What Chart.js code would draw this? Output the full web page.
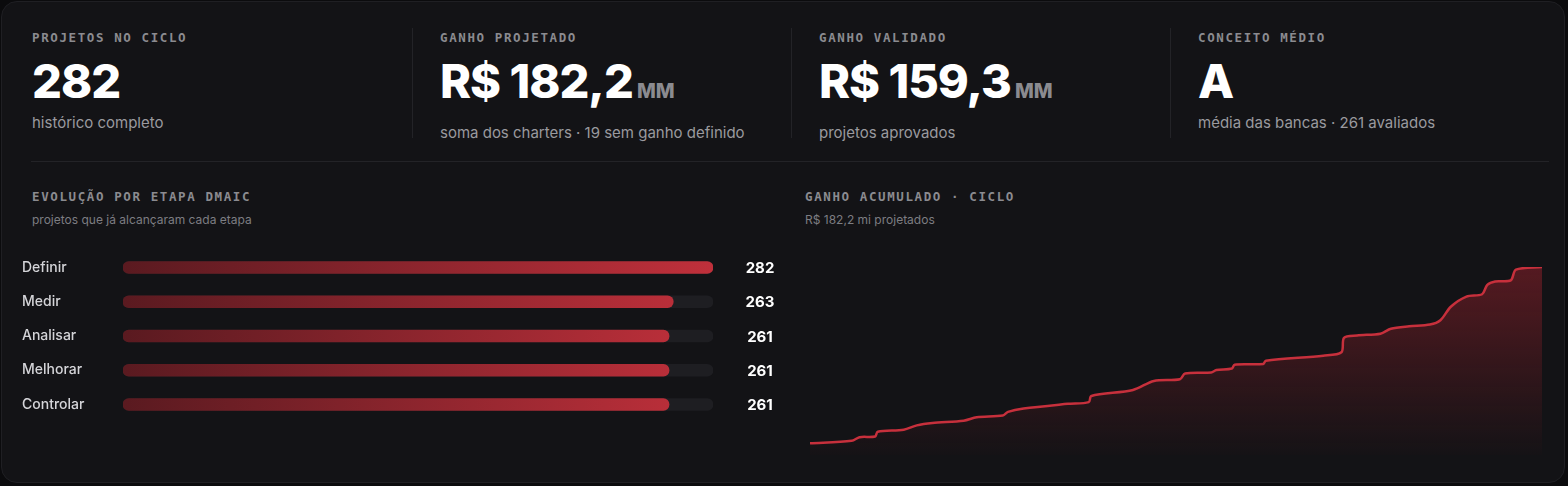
<!DOCTYPE html>
<html><head><meta charset="utf-8">
<script src="https://cdn.jsdelivr.net/npm/chart.js@4.4.1/dist/chart.umd.min.js"></script>
<style>
html,body{margin:0;padding:0;background:#0b0b0d;width:1568px;height:486px;overflow:hidden;font-family:Inter,sans-serif}
.card{position:absolute;left:1px;top:1px;width:1564px;height:482px;border-radius:16px;background:#131316;border:1px solid #1f1f23;box-sizing:border-box}
.kpi{position:absolute;top:30px}
.lab{font-family:"DejaVu Sans Mono",monospace;font-weight:bold;font-size:12.5px;letter-spacing:1.6px;color:#8b8b90}
.big{font-weight:800;font-size:47px;color:#fff;margin-top:8px;line-height:56px;letter-spacing:-1px}
.big span{font-size:20px;color:#8b8b90;letter-spacing:0;margin-left:4px}
.sub{font-size:15px;color:#9a9a9f;margin-top:4px}
.vd{position:absolute;top:28px;width:1px;height:110px;background:#232327}
.hd{position:absolute;left:31px;top:161px;width:1518px;height:1px;background:#232327}
.st{position:absolute}
.st .sub2{font-size:12px;color:#7d7d82;margin-top:8px}
canvas{position:absolute}
</style></head><body>
<div class="card"></div>
<div class="kpi" style="left:32px"><div class="lab">PROJETOS NO CICLO</div><div class="big">282</div><div class="sub">histórico completo</div></div>
<div class="vd" style="left:412px"></div>
<div class="kpi" style="left:440px"><div class="lab">GANHO PROJETADO</div><div class="big">R$ 182,2<span>MM</span></div><div class="sub">soma dos charters · 19 sem ganho definido</div></div>
<div class="vd" style="left:791px"></div>
<div class="kpi" style="left:819px"><div class="lab">GANHO VALIDADO</div><div class="big">R$ 159,3<span>MM</span></div><div class="sub">projetos aprovados</div></div>
<div class="vd" style="left:1170px"></div>
<div class="kpi" style="left:1198px"><div class="lab">CONCEITO MÉDIO</div><div class="big">A</div><div class="sub">média das bancas · 261 avaliados</div></div>
<div class="hd"></div>
<div class="st" style="left:32px;top:189px"><div class="lab">EVOLUÇÃO POR ETAPA DMAIC</div><div class="sub2">projetos que já alcançaram cada etapa</div></div>
<div class="st" style="left:805px;top:189px"><div class="lab">GANHO ACUMULADO · CICLO</div><div class="sub2">R$ 182,2 mi projetados</div></div>
<canvas id="bars" style="left:22px;top:242px;width:780px;height:188px" width="780" height="188"></canvas>
<canvas id="line" style="left:800px;top:240px;width:750px;height:215px" width="750" height="215"></canvas>
<script>
const stages=["Definir","Medir","Analisar","Melhorar","Controlar"];
const stageCounts=[282,263,261,261,261];
const totalProjects=282;
const projIndex=[1,17,20,26,27,37,42,48,60,65,75,77,83,100,108,109,125,133,143,145,155,157,163,164,175,176,198,205,206,211,220,224,231,239,243,247,253,259,261,264,270,272,282];
const cumGain=[11.4,13.7,17.3,18.0,22.5,24.5,28.7,31.0,33.3,36.6,38.2,41.8,45.1,49.6,51.3,57.2,63.0,71.8,73.5,79.0,80.0,82.3,83.9,87.5,88.2,91.4,96.3,99.6,113.6,115.9,117.6,122.4,124.7,126.4,130.6,143.7,153.5,155.8,164.9,168.2,169.2,179.6,182.2];

const valuePlugin={id:'vals',afterDatasetsDraw(c){const ctx=c.ctx;const ds=c.getDatasetMeta(1);ctx.save();ctx.font='bold 15px Inter';ctx.fillStyle='#fff';ctx.textAlign='center';ctx.textBaseline='middle';
ds.data.forEach((b,i)=>ctx.fillText(stageCounts[i],c.chartArea.right+47,b.y+1));ctx.restore();}};
new Chart(document.getElementById('bars'),{type:'bar',
data:{labels:stages,datasets:[
{data:stages.map(()=>totalProjects),backgroundColor:'#1e1e22',borderRadius:6,borderSkipped:false,barThickness:12,grouped:false,order:2},
{data:stageCounts,backgroundColor:(ctx)=>{const a=ctx.chart.chartArea;if(!a)return '#a82a33';const g=ctx.chart.ctx.createLinearGradient(a.left,0,a.right,0);g.addColorStop(0,'#5a1a20');g.addColorStop(1,'#c0303b');return g;},borderRadius:6,borderSkipped:false,barThickness:12,grouped:false,order:1}]},
options:{indexAxis:'y',responsive:false,animation:false,layout:{padding:{right:89,top:0,bottom:0}},
plugins:{legend:{display:false},tooltip:{enabled:false}},
scales:{x:{display:false,min:0,max:totalProjects},y:{grid:{display:false},border:{display:false},afterFit(s){s.width=101;},ticks:{crossAlign:'far',padding:0,color:'#d4d4d8',font:{family:'Inter',size:14,weight:500}}}}},
plugins:[valuePlugin]});

new Chart(document.getElementById('line'),{type:'line',
data:{datasets:[{data:projIndex.map((x,i)=>({x,y:cumGain[i]})),borderColor:'#c7303c',borderWidth:2.5,pointRadius:0,tension:0.3,fill:'origin',
backgroundColor:(ctx)=>{const a=ctx.chart.chartArea;if(!a)return 'rgba(150,30,40,0.3)';const g=ctx.chart.ctx.createLinearGradient(0,a.top,0,a.bottom);g.addColorStop(0,'rgba(140,32,42,0.55)');g.addColorStop(1,'rgba(140,32,42,0.02)');return g;}}]},
options:{responsive:false,animation:false,layout:{padding:{left:10,right:8,top:27,bottom:0}},
plugins:{legend:{display:false},tooltip:{enabled:false}},
scales:{x:{type:'linear',display:false,min:1,max:282},y:{display:false,min:0,max:182.2}}}});
</script>
</body></html>
